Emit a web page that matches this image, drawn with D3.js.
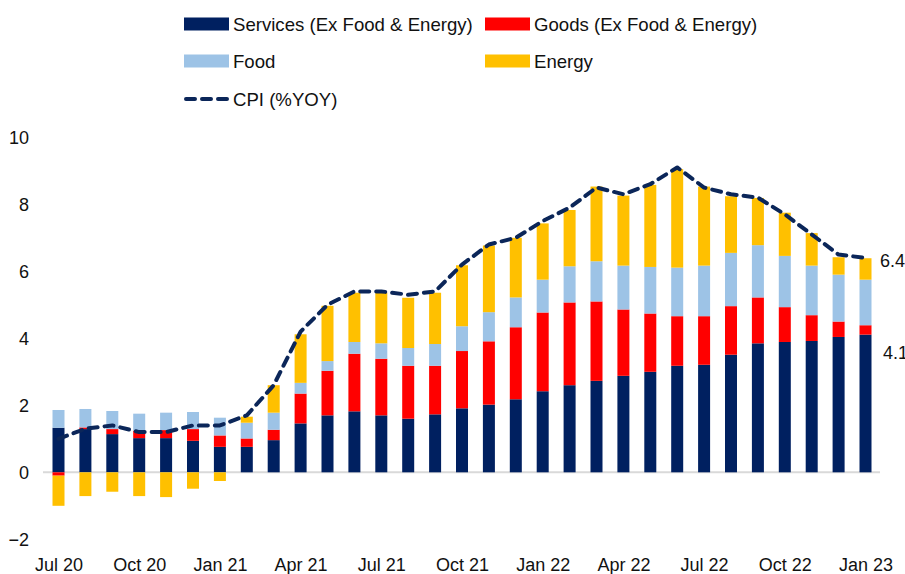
<!DOCTYPE html>
<html>
<head>
<meta charset="utf-8">
<script src="https://cdn.jsdelivr.net/npm/d3@7"></script>
<style>
  html, body { margin: 0; padding: 0; background: #fff; }
  svg { display: block; font-family: "Liberation Sans", Arial, sans-serif; }
  .tick-label { font-size: 18px; fill: #111; }
  .legend-text { font-size: 18.6px; fill: #111; }
</style>
</head>
<body>
<svg id="chart" width="905" height="574"></svg>
<script>
// CPI contributions, Jul 20 .. Jan 23 (pp of YoY)
var months = ['Jul 20','Aug 20','Sep 20','Oct 20','Nov 20','Dec 20',
              'Jan 21','Feb 21','Mar 21','Apr 21','May 21','Jun 21',
              'Jul 21','Aug 21','Sep 21','Oct 21','Nov 21','Dec 21',
              'Jan 22','Feb 22','Mar 22','Apr 22','May 22','Jun 22',
              'Jul 22','Aug 22','Sep 22','Oct 22','Nov 22','Dec 22','Jan 23'];
var services = [1.33,1.29,1.14,1.02,1.02,0.94,0.76,0.76,0.96,1.46,1.70,1.82,
                1.70,1.60,1.73,1.91,2.02,2.18,2.42,2.60,2.73,2.88,3.00,3.18,
                3.21,3.51,3.85,3.89,3.92,4.04,4.11];
var goods    = [-0.10,0.05,0.15,0.22,0.24,0.35,0.34,0.25,0.31,0.89,1.33,1.72,
                1.69,1.58,1.45,1.71,1.89,2.15,2.35,2.47,2.37,1.98,1.74,1.48,
                1.45,1.45,1.37,1.04,0.77,0.46,0.28];
var food     = [0.53,0.55,0.54,0.51,0.52,0.51,0.53,0.47,0.51,0.32,0.29,0.35,
                0.46,0.53,0.65,0.74,0.87,0.89,0.98,1.08,1.20,1.31,1.39,1.45,
                1.51,1.59,1.56,1.53,1.48,1.40,1.36];
var energy   = [-0.90,-0.71,-0.58,-0.71,-0.74,-0.49,-0.26,0.18,0.82,1.45,1.65,1.47,
                1.51,1.50,1.53,1.82,1.99,1.78,1.68,1.68,2.23,2.09,2.45,2.94,
                2.36,1.69,1.41,1.29,0.97,0.52,0.64];
var cpi      = [1.0,1.3,1.4,1.2,1.2,1.4,1.4,1.7,2.6,4.2,5.0,5.4,
                5.4,5.3,5.4,6.2,6.8,7.0,7.5,7.9,8.5,8.3,8.6,9.1,
                8.5,8.3,8.2,7.7,7.1,6.5,6.4];
var xTickLabels = ['Jul 20','Oct 20','Jan 21','Apr 21','Jul 21','Oct 21',
                   'Jan 22','Apr 22','Jul 22','Oct 22','Jan 23'];
var yTicks = [-2, 0, 2, 4, 6, 8, 10];

var seriesKeys   = ['services','goods','food','energy'];
var seriesNames  = ['Services (Ex Food & Energy)','Goods (Ex Food & Energy)','Food','Energy'];
var seriesColors = ['#002060','#FF0000','#9DC3E6','#FFC000'];
var lineColor = '#0B2659';

(function () {
    var svg = d3.select('#chart');

    var rows = months.map(function (m, i) {
        return { month: m, services: services[i], goods: goods[i],
                 food: food[i], energy: energy[i], cpi: cpi[i] };
    });

    var x = d3.scalePoint().domain(months).range([58.5, 865.5]);
    var y = d3.scaleLinear().domain([-2, 10]).range([539.3, 137.3]);
    var barW = 12;

    // zero line
    svg.append('line')
        .attr('x1', 43).attr('x2', 880)
        .attr('y1', y(0)).attr('y2', y(0))
        .attr('stroke', '#D9D9D9').attr('stroke-width', 2);

    // stacked bars, negatives stack below zero
    var stack = d3.stack().keys(seriesKeys).offset(d3.stackOffsetDiverging);
    var layers = stack(rows);
    var gBars = svg.append('g');
    layers.forEach(function (layer, li) {
        gBars.append('g').attr('fill', seriesColors[li])
            .selectAll('rect').data(layer).enter().append('rect')
            .attr('x', function (d) { return x(d.data.month) - barW / 2; })
            .attr('width', barW)
            .attr('y', function (d) { return y(Math.max(d[0], d[1])); })
            .attr('height', function (d) { return Math.abs(y(d[0]) - y(d[1])); });
    });

    // CPI dashed line
    svg.append('path')
        .datum(rows)
        .attr('fill', 'none')
        .attr('stroke', lineColor)
        .attr('stroke-width', 4)
        .attr('stroke-dasharray', '9 7')
        .attr('stroke-linecap', 'round')
        .attr('stroke-linejoin', 'round')
        .attr('d', d3.line()
            .x(function (d) { return x(d.month); })
            .y(function (d) { return y(d.cpi); }));

    // y axis labels (no axis line)
    var ay = svg.append('g').attr('transform', 'translate(29,0)')
        .call(d3.axisLeft(y).tickValues(yTicks).tickSize(0).tickPadding(0)
            .tickFormat(d3.format('d')));
    ay.select('.domain').remove();
    ay.selectAll('text').attr('class', 'tick-label').attr('font-size', null)
        .attr('font-family', null).attr('dy', '0.35em');

    // x axis labels every 3 months
    var ax = svg.append('g').attr('transform', 'translate(0,' + 558 + ')')
        .call(d3.axisBottom(x).tickValues(xTickLabels).tickSize(0).tickPadding(0));
    ax.select('.domain').remove();
    ax.selectAll('text').attr('class', 'tick-label').attr('font-size', null)
        .attr('font-family', null).attr('dy', '0.71em');

    // end labels (the reference clips them at the right edge)
    var n = months.length - 1;
    svg.append('text').attr('class', 'tick-label')
        .attr('x', 880).attr('y', y(cpi[n]) + 3).attr('dy', '0.35em')
        .text(cpi[n].toFixed(1));
    svg.append('text').attr('class', 'tick-label')
        .attr('x', 883).attr('y', y(services[n]) + 18).attr('dy', '0.35em')
        .text(services[n].toFixed(1));

    // legend
    var legPos = [[184, 24], [485, 24], [184, 61], [485, 61]];
    seriesNames.forEach(function (name, i) {
        var g = svg.append('g').attr('transform', 'translate(' + legPos[i][0] + ',' + legPos[i][1] + ')');
        g.append('rect').attr('x', 0).attr('y', -6.5).attr('width', 45).attr('height', 13)
            .attr('fill', seriesColors[i]);
        g.append('text').attr('class', 'legend-text').attr('x', 49).attr('y', 0)
            .attr('dy', '0.35em').text(name);
    });
    var gl = svg.append('g').attr('transform', 'translate(184,99)');
    gl.append('line').attr('x1', 2).attr('x2', 43).attr('y1', 0).attr('y2', 0)
        .attr('stroke', lineColor).attr('stroke-width', 4)
        .attr('stroke-dasharray', '9 7').attr('stroke-linecap', 'round');
    gl.append('text').attr('class', 'legend-text').attr('x', 49).attr('y', 0)
        .attr('dy', '0.35em').text('CPI (%YOY)');
})();
</script>
</body>
</html>
